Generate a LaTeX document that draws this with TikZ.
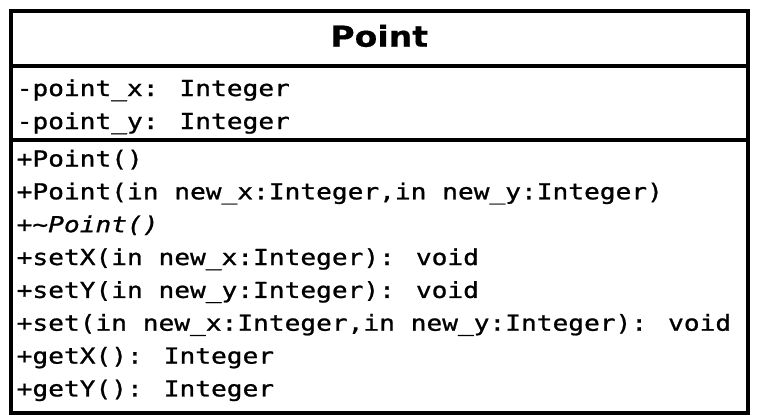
\documentclass[tikz,border=0pt]{standalone}
\usepackage{fontspec}
\newfontfamily\umlmono[FakeStretch=1.19,FakeBold=1]{DejaVu Sans Mono}
\newfontfamily\umlmonoit[FakeStretch=1.19,FakeBold=1]{DejaVu Sans Mono Oblique}
\newfontfamily\umltitle[FakeStretch=1.15,FakeBold=0.5]{DejaVu Sans Bold}
\begin{document}
\begin{tikzpicture}[x=1pt,y=-1pt,
  frame/.style={line width=4pt,draw=black},
  title/.style={inner sep=0pt,anchor=base,font=\umltitle\fontsize{28.8}{30}\selectfont},
  member/.style={inner sep=0pt,anchor=base west,font=\umlmono\fontsize{22}{24}\selectfont}]
  \useasboundingbox (0,0) rectangle (758,415);
  % class frame and compartment separators
  \coordinate (nw) at (11,11);
  \coordinate (se) at (747.5,412.5);
  \fill[white] (nw) rectangle (se);
  \draw[frame] (nw) rectangle (se);
  \draw[frame] (11,66) -- (747.5,66);
  \draw[frame] (11,139.5) -- (747.5,139.5);
  % class name
  \node[title] (name) at (379.25,46.7) {Point};
  % attributes
  \node[member] (a1) at (16.5,96) {-point\_x: Integer};
  \node[member] (a2) at (16.5,129) {-point\_y: Integer};
  % operations
  \node[member] (m1) at (16.5,166.5) {+Point()};
  \node[member] (m2) at (16.5,199.3) {+Point(in new\_x:Integer,in new\_y:Integer)};
  \node[member] (m3) at (16.5,232.2) {+{\umlmonoit\fontsize{22}{24}\selectfont\textasciitilde Point()}};
  \node[member] (m4) at (16.5,265) {+setX(in new\_x:Integer): void};
  \node[member] (m5) at (16.5,297.9) {+setY(in new\_y:Integer): void};
  \node[member] (m6) at (16.5,330.7) {+set(in new\_x:Integer,in new\_y:Integer): void};
  \node[member] (m7) at (16.5,363.6) {+getX(): Integer};
  \node[member] (m8) at (16.5,396.4) {+getY(): Integer};
\end{tikzpicture}
\end{document}
